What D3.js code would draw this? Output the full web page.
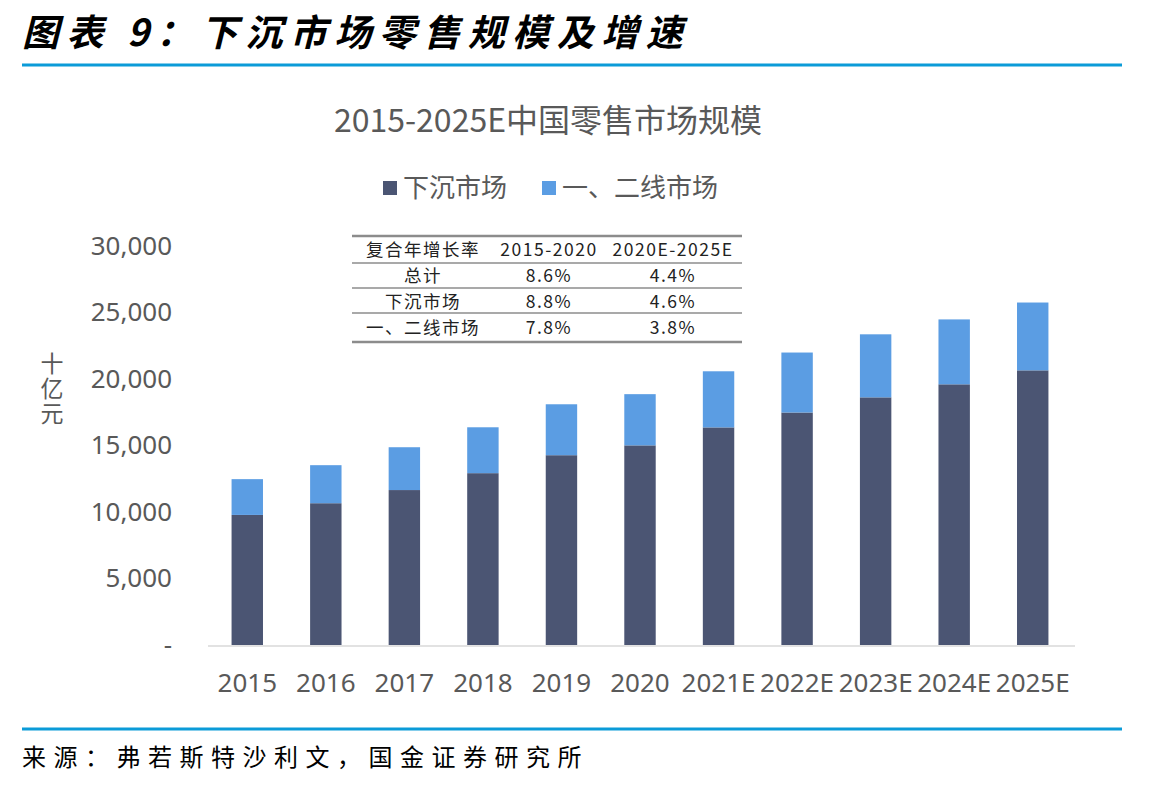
<!DOCTYPE html>
<html>
<head>
<meta charset="utf-8">
<script src="https://cdn.jsdelivr.net/npm/d3@7"></script>
<style>
  body { margin: 0; background: #fff; }
  text { font-family: "Noto Sans CJK SC", "Noto Sans", sans-serif; }
</style>
</head>
<body>
<svg id="chart"></svg>
<script>
// chart data
const years = ["2015", "2016", "2017", "2018", "2019", "2020", "2021E", "2022E", "2023E", "2024E", "2025E"];
const lowerTier = [9780, 10660, 11650, 12920, 14270, 15010, 16360, 17480, 18620, 19600, 20650];
const upperTier = [2690, 2860, 3220, 3450, 3830, 3850, 4220, 4510, 4740, 4880, 5100];
const seriesNames = ["下沉市场", "一、二线市场"];
const yTicks = [0, 5000, 10000, 15000, 20000, 25000, 30000];

const tableHeader = ["复合年增长率", "2015-2020", "2020E-2025E"];
const tableRows = [
  ["总计", "8.6%", "4.4%"],
  ["下沉市场", "8.8%", "4.6%"],
  ["一、二线市场", "7.8%", "3.8%"]
];

const colors = { "下沉市场": "#4b5573", "一、二线市场": "#5b9de3" };
const blue = "#0b9bd8";
const gray = "#595959";

const W = 1165, H = 788;
const svg = d3.select("#chart").attr("width", W).attr("height", H);

// header
svg.append("text")
  .attr("x", 22).attr("y", 46)
  .attr("font-size", 37).attr("font-weight", "bold").attr("font-style", "italic")
  .attr("letter-spacing", 7.5)
  .attr("fill", "#000")
  .text("图表 9：下沉市场零售规模及增速");
svg.append("line").attr("x1", 22).attr("x2", 1122).attr("y1", 65).attr("y2", 65)
  .attr("stroke", blue).attr("stroke-width", 3);

// footer
svg.append("line").attr("x1", 22).attr("x2", 1122).attr("y1", 729).attr("y2", 729)
  .attr("stroke", blue).attr("stroke-width", 3);
svg.append("text")
  .attr("x", 22).attr("y", 766)
  .attr("font-size", 24).attr("letter-spacing", 7.5).attr("fill", "#000")
  .text("来源：弗若斯特沙利文，国金证券研究所");

// chart title + legend
svg.append("text")
  .attr("x", 548).attr("y", 132).attr("text-anchor", "middle")
  .attr("font-size", 32).attr("fill", gray)
  .text("2015-2025E中国零售市场规模");

const legendPos = [383, 542];
seriesNames.forEach((name, i) => {
  const g = svg.append("g").attr("transform", `translate(${legendPos[i]},181)`);
  g.append("rect").attr("width", 14).attr("height", 14).attr("fill", colors[name]);
  g.append("text").attr("x", 20).attr("y", 16).attr("font-size", 26).attr("fill", gray).text(name);
});

// scales
const x = d3.scaleBand().domain(years).range([208, 1072]).paddingInner(0.6).paddingOuter(0.3);
const y = d3.scaleLinear().domain([0, 30000]).range([645, 246]);

// y axis
const yAxis = svg.append("g")
  .attr("transform", "translate(172,0)")
  .call(d3.axisLeft(y).tickValues(yTicks).tickSize(0).tickPadding(0)
    .tickFormat(d => d === 0 ? "-" : d3.format(",")(d)));
yAxis.select(".domain").remove();
yAxis.selectAll("text").attr("font-size", 26).attr("fill", gray)
  .style("font-family", "'Noto Sans', 'Noto Sans CJK SC', sans-serif");

// y axis title, written vertically
svg.append("text")
  .attr("x", 52).attr("y", 352)
  .style("writing-mode", "vertical-rl")
  .attr("font-size", 23).attr("letter-spacing", 2).attr("fill", gray)
  .text("十亿元");

// stacked bars
const stackData = years.map((yr, i) => ({ year: yr, "下沉市场": lowerTier[i], "一、二线市场": upperTier[i] }));
const stacked = d3.stack().keys(seriesNames)(stackData);

svg.append("g").selectAll("g")
  .data(stacked)
  .join("g")
  .attr("fill", d => colors[d.key])
  .selectAll("rect")
  .data(d => d)
  .join("rect")
  .attr("x", d => x(d.data.year))
  .attr("y", d => y(d[1]))
  .attr("width", x.bandwidth())
  .attr("height", d => y(d[0]) - y(d[1]));

// x axis
const xAxis = svg.append("g")
  .attr("transform", "translate(0,646)")
  .call(d3.axisBottom(x).tickSize(0).tickPadding(28));
xAxis.select(".domain").attr("stroke", "#d9d9d9").attr("stroke-width", 1.5)
  .attr("d", "M208,0H1075");
xAxis.selectAll("text").attr("font-size", 26).attr("fill", gray)
  .style("font-family", "'Noto Sans', 'Noto Sans CJK SC', sans-serif");

// CAGR table
const tbl = svg.append("g");
const colCenters = [423, 549, 673];
const lineYs = [236, 263, 288, 313, 342];
const rowYs = [256, 282, 308, 334];
lineYs.forEach((ly, i) => {
  tbl.append("line").attr("x1", 352).attr("x2", 742).attr("y1", ly).attr("y2", ly)
    .attr("stroke", "#8c8c8c").attr("stroke-width", (i === 0 || i === lineYs.length - 1) ? 2.5 : 1.5);
});
[tableHeader].concat(tableRows).forEach((row, r) => {
  row.forEach((cell, c) => {
    tbl.append("text")
      .attr("x", colCenters[c]).attr("y", rowYs[r])
      .attr("text-anchor", "middle")
      .attr("font-size", 17.5).attr("letter-spacing", 1.5).attr("fill", "#222")
      .text(cell);
  });
});
</script>
</body>
</html>
